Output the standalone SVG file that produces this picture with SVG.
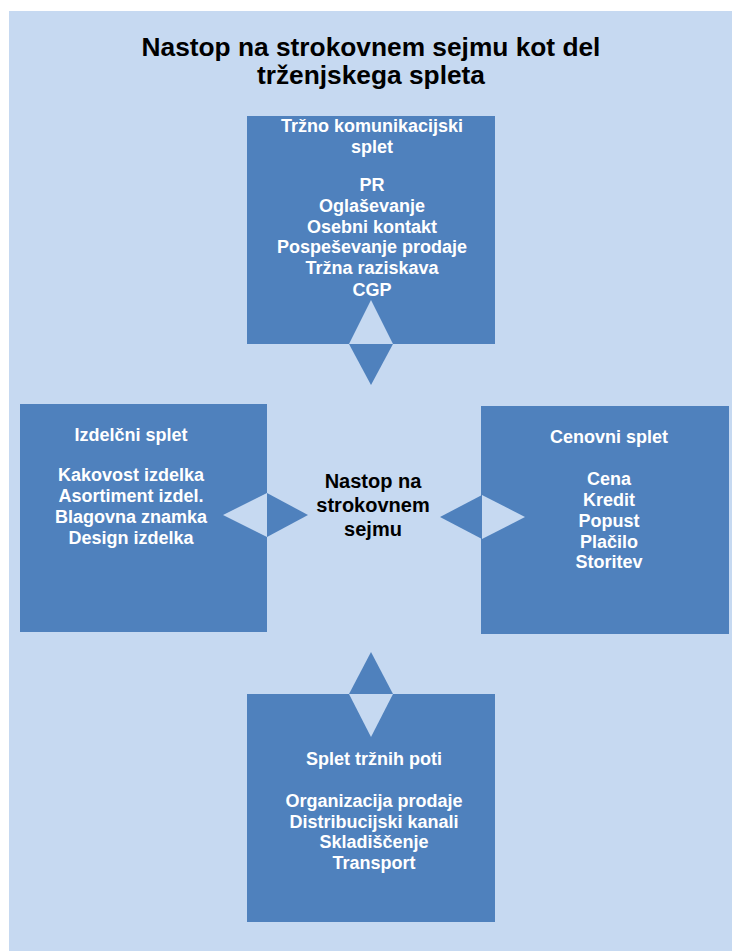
<svg xmlns="http://www.w3.org/2000/svg" width="732" height="951" viewBox="0 0 732 951">
<style>
.bg{fill:#C6D9F1}
.box{fill:#4F81BD}
.lt{fill:#C6D9F1}
.dk{fill:#4F81BD}
text{font-family:"Liberation Sans",Arial,sans-serif;font-weight:bold;text-anchor:middle}
.t{font-size:26.3px;fill:#000}
.b{font-size:18px;fill:#FFFFFF}
.c{font-size:20px;fill:#000}
</style>
<rect x="0" y="0" width="732" height="951" fill="#FFFFFF"/>
<rect class="bg" x="9" y="11" width="723" height="940"/>
<g id="title">
<text class="t" x="371" y="56">Nastop na strokovnem sejmu kot del</text>
<text class="t" x="371" y="84">trženjskega spleta</text>
</g>
<g id="node-top">
<rect class="box" x="247" y="116" width="248" height="228"/>
<text class="b" x="372" y="132">Tržno komunikacijski</text>
<text class="b" x="372" y="153">splet</text>
<text class="b" x="372" y="191">PR</text>
<text class="b" x="372" y="212">Oglaševanje</text>
<text class="b" x="372" y="233">Osebni kontakt</text>
<text class="b" x="372" y="253">Pospeševanje prodaje</text>
<text class="b" x="372" y="274">Tržna raziskava</text>
<text class="b" x="372" y="296">CGP</text>
</g>
<g id="node-left">
<rect class="box" x="20" y="404" width="247" height="228"/>
<text class="b" x="131" y="441">Izdelčni splet</text>
<text class="b" x="131" y="481">Kakovost izdelka</text>
<text class="b" x="131" y="502">Asortiment izdel.</text>
<text class="b" x="131" y="523">Blagovna znamka</text>
<text class="b" x="131" y="544">Design izdelka</text>
</g>
<g id="node-right">
<rect class="box" x="481" y="406" width="248" height="228"/>
<text class="b" x="609" y="443">Cenovni splet</text>
<text class="b" x="609" y="485">Cena</text>
<text class="b" x="609" y="506">Kredit</text>
<text class="b" x="609" y="527">Popust</text>
<text class="b" x="609" y="548">Plačilo</text>
<text class="b" x="609" y="568">Storitev</text>
</g>
<g id="node-bottom">
<rect class="box" x="247" y="694" width="248" height="228"/>
<text class="b" x="374" y="765">Splet tržnih poti</text>
<text class="b" x="374" y="807">Organizacija prodaje</text>
<text class="b" x="374" y="828">Distribucijski kanali</text>
<text class="b" x="374" y="848">Skladiščenje</text>
<text class="b" x="374" y="869">Transport</text>
</g>
<g id="node-center">
<text class="c" x="373" y="488">Nastop na</text>
<text class="c" x="373" y="512">strokovnem</text>
<text class="c" x="373" y="536">sejmu</text>
</g>
<g id="connectors">
<polygon class="lt" points="349,344 393,344 371,300"/>
<polygon class="dk" points="349,344 393,344 371,385"/>
<polygon class="lt" points="267,493 267,537 223,515"/>
<polygon class="dk" points="267,493 267,537 308,515"/>
<polygon class="dk" points="482,495 482,539 440,517"/>
<polygon class="lt" points="482,495 482,539 525,517"/>
<polygon class="dk" points="349,694 393,694 371,652"/>
<polygon class="lt" points="349,694 393,694 371,737"/>
</g>
</svg>
